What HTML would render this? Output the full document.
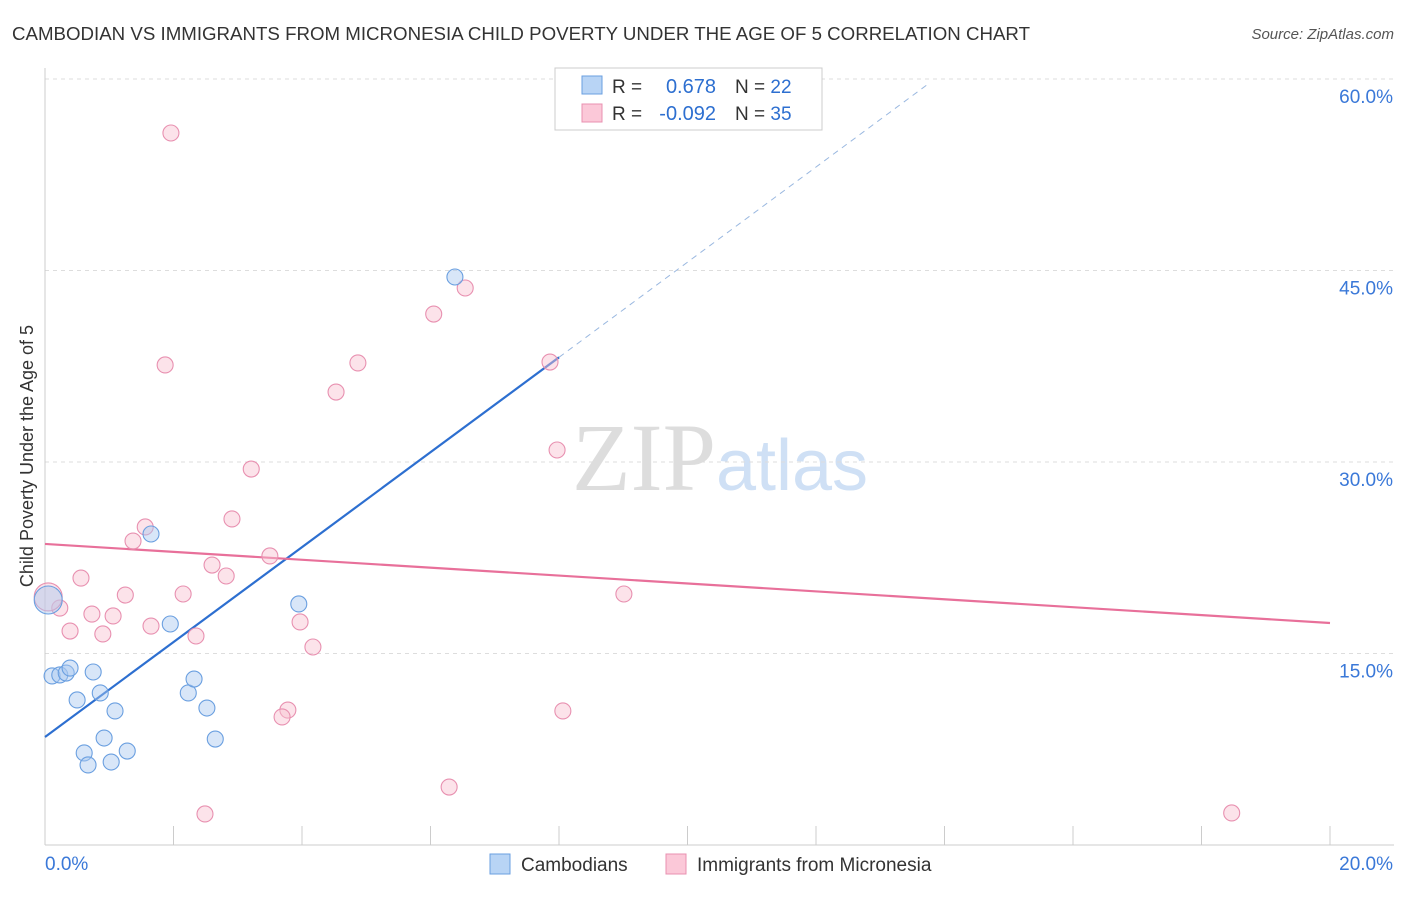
<!DOCTYPE html>
<html><head><meta charset="utf-8"><style>
body{margin:0;background:#fff;font-family:"Liberation Sans",sans-serif;}
</style></head><body>
<svg id="chart" width="1406" height="892" xmlns="http://www.w3.org/2000/svg" font-family="Liberation Sans, sans-serif">
<text x="12" y="40" font-size="18" fill="#333" textLength="1018" lengthAdjust="spacingAndGlyphs">CAMBODIAN VS IMMIGRANTS FROM MICRONESIA CHILD POVERTY UNDER THE AGE OF 5 CORRELATION CHART</text>
<text x="1394" y="39" font-size="15" fill="#555" text-anchor="end" font-style="italic">Source: ZipAtlas.com</text>
<text x="720" y="490" font-size="96" text-anchor="middle" fill="#ddd" font-family="Liberation Serif, serif">ZIP<tspan fill="#cfe0f5" font-family="Liberation Sans, sans-serif" font-size="72">atlas</tspan></text>
<text transform="translate(33,456) rotate(-90)" font-size="18" fill="#333" text-anchor="middle">Child Poverty Under the Age of 5</text>
<g id="grid"></g><g id="axes"></g><g id="lines"></g><g id="pts"></g>
<g>
<rect x="555" y="68" width="267" height="62" fill="#fff" stroke="#ccc"/>
<rect x="582" y="76" width="20" height="18" fill="#b8d4f5" stroke="#6a9fe0"/>
<rect x="582" y="104" width="20" height="18" fill="#fbc8d8" stroke="#e890b0"/>
<text x="612" y="93" font-size="19" fill="#333">R =</text>
<text x="716" y="93" font-size="20" fill="#2d6fd0" text-anchor="end">0.678</text>
<text x="735" y="93" font-size="19" fill="#333">N = <tspan fill="#2d6fd0">22</tspan></text>
<text x="612" y="120" font-size="19" fill="#333">R =</text>
<text x="716" y="120" font-size="20" fill="#2d6fd0" text-anchor="end">-0.092</text>
<text x="735" y="120" font-size="19" fill="#333">N = <tspan fill="#2d6fd0">35</tspan></text>
</g>
<g>
<rect x="490" y="854" width="20" height="20" fill="#b8d4f5" stroke="#6a9fe0"/>
<text x="521" y="871" font-size="19" fill="#333">Cambodians</text>
<rect x="666" y="854" width="20" height="20" fill="#fbc8d8" stroke="#e890b0"/>
<text x="697" y="871" font-size="19" fill="#333">Immigrants from Micronesia</text>
</g>
</svg>
<script>
const blueX=[0.11,0.23,0.33,0.39,0.50,0.61,0.67,0.75,0.86,0.92,1.03,1.09,1.28,1.65,1.95,2.23,2.32,2.52,2.65,3.95,6.38,0.05];
const blueY=[13.24,13.32,13.47,13.86,11.36,7.21,6.27,13.55,11.91,8.38,6.50,10.50,7.36,24.36,17.31,11.91,13.00,10.73,8.30,18.88,44.49,19.19];
const pinkX=[1.96,1.87,6.54,6.05,4.87,4.53,7.86,7.97,3.21,2.91,1.56,1.37,3.50,2.60,2.82,0.56,1.25,2.15,9.01,0.23,0.73,1.06,1.65,0.39,0.90,3.97,2.35,4.17,3.78,3.69,8.06,6.29,2.49,18.47,0.05];
const pinkY=[55.77,37.60,43.63,41.59,37.76,35.48,37.83,30.94,29.45,25.54,24.91,23.81,22.64,21.93,21.07,20.91,19.58,19.66,19.66,18.56,18.09,17.94,17.15,16.76,16.53,17.47,16.37,15.51,10.57,10.03,10.50,4.54,2.43,2.51,19.43];
const blueTrend=[0,8.46,8,38.2,13.77,59.7];
const pinkTrend=[0,23.58,20,17.39];
const yTicks=[15,30,45,60];
const yTickLabels=["15.0%","30.0%","45.0%","60.0%"];
const xTicks=[0,2,4,6,8,10,12,14,16,18,20];
const NS="http://www.w3.org/2000/svg";
const sx=v=>45+v/20*1285, sy=v=>845-v/15*191.5;
function mk(p,t,a){const e=document.createElementNS(NS,t);for(const k in a)e.setAttribute(k,a[k]);document.getElementById(p).appendChild(e);return e;}
yTicks.forEach((t,i)=>{
 const g=mk('grid','line',{x1:45,x2:1394,y1:sy(t),y2:sy(t),stroke:'#ddd','stroke-dasharray':'4,4'});
 
 const l=mk('axes','text',{x:1393,y:sy(t)+24,'font-size':19,fill:'#3a78d8','text-anchor':'end'});l.textContent=yTickLabels[i];
 
});
let a=mk('axes','line',{x1:45,x2:45,y1:68,y2:845,stroke:'#ccc'});

a=mk('axes','line',{x1:45,x2:1394,y1:845,y2:845,stroke:'#ccc'});

xTicks.forEach(t=>{const e=mk('axes','line',{x1:sx(t),x2:sx(t),y1:826,y2:845,stroke:'#ccc'});
 });
let t=mk('axes','text',{x:45,y:870,'font-size':19,fill:'#3a78d8'});t.textContent='0.0%';

t=mk('axes','text',{x:1393,y:870,'font-size':19,fill:'#3a78d8','text-anchor':'end'});t.textContent='20.0%';

let ln=mk('lines','line',{x1:sx(blueTrend[0]),y1:sy(blueTrend[1]),x2:sx(blueTrend[2]),y2:sy(blueTrend[3]),stroke:'#2d6fd0','stroke-width':2.2});

ln=mk('lines','line',{x1:sx(blueTrend[2]),y1:sy(blueTrend[3]),x2:sx(blueTrend[4]),y2:sy(blueTrend[5]),stroke:'#9ab8e0','stroke-width':1,'stroke-dasharray':'6,5'});

ln=mk('lines','line',{x1:sx(pinkTrend[0]),y1:sy(pinkTrend[1]),x2:sx(pinkTrend[2]),y2:sy(pinkTrend[3]),stroke:'#e8709a','stroke-width':2.2});

pinkX.forEach((x,i)=>{const r=i===pinkX.length-1?14:8;
 const c=mk('pts','circle',{cx:sx(x),cy:sy(pinkY[i]),r:r,fill:'#f8c0d0','fill-opacity':0.45,stroke:'#e890b0','stroke-width':1.1});
 });
blueX.forEach((x,i)=>{const r=i===blueX.length-1?14:8;
 const c=mk('pts','circle',{cx:sx(x),cy:sy(blueY[i]),r:r,fill:'#a8c8f0','fill-opacity':0.45,stroke:'#6a9fe0','stroke-width':1.1});
 });
</script>
</body></html>
